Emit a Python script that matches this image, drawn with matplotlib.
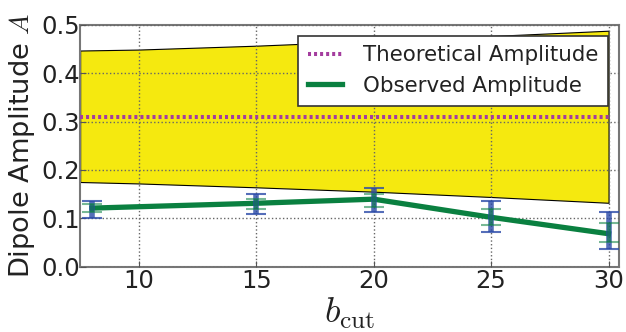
import matplotlib
matplotlib.use("Agg")
import matplotlib.pyplot as plt

plt.rcParams["mathtext.fontset"] = "cm"
plt.rcParams["font.family"] = ["DejaVu Sans"]

# b_cut values of the observations
b_cut = [8, 15, 20, 25, 30]
observed = [0.121, 0.131, 0.1395, 0.102, 0.068]

# wide (blue) and narrow (green) uncertainty intervals
blue_low = [0.1014, 0.109, 0.112, 0.071, 0.037]
blue_high = [0.1366, 0.150, 0.1635, 0.1366, 0.113]
green_low = [0.112, 0.119, 0.1235, 0.087, 0.050]
green_high = [0.129, 0.140, 0.150, 0.120, 0.090]

theoretical = 0.31

# expected range band
band_x = [7.5, 10, 15, 20, 25, 30]
band_low = [0.175, 0.172, 0.164, 0.155, 0.144, 0.132]
band_high = [0.447, 0.449, 0.457, 0.467, 0.477, 0.488]

fig = plt.figure(figsize=(6.26, 3.32), dpi=100)
ax = fig.add_axes([0.128, 0.197, 0.861, 0.728])

ax.fill_between(band_x, band_low, band_high, facecolor="#f5e90f",
                edgecolor="black", linewidth=0.8, zorder=1)

ax.plot([7.5, 30], [theoretical, theoretical], linestyle=(0, (0.75, 0.75)),
        color="#a43d9e", linewidth=2.9, label="Theoretical Amplitude", zorder=3)

ax.plot(b_cut, observed, color="#0a8040", linewidth=3.8,
        label="Observed Amplitude", zorder=4)

b_err = [[o - l for o, l in zip(observed, blue_low)],
         [h - o for o, h in zip(observed, blue_high)]]
g_err = [[o - l for o, l in zip(observed, green_low)],
         [h - o for o, h in zip(observed, green_high)]]
ax.errorbar(b_cut, observed, yerr=b_err, fmt="none", ecolor="#2a4aa8",
            elinewidth=4, capsize=7, capthick=1.5, alpha=0.8, zorder=5)
ax.errorbar(b_cut, observed, yerr=g_err, fmt="none", ecolor="#0a8040",
            elinewidth=3, capsize=7, capthick=1.5, alpha=0.55, zorder=6)

ax.set_xlim(7.5, 30.45)
ax.set_ylim(0.0, 0.5)
ax.set_xticks([10, 15, 20, 25, 30])
ax.set_yticks([0.0, 0.1, 0.2, 0.3, 0.4, 0.5])
ax.set_yticklabels(["0.0", "0.1", "0.2", "0.3", "0.4", "0.5"])
ax.tick_params(direction="in", labelsize=17.5, length=4, color="#555555",
               labelcolor="#222222")
ax.tick_params(axis="y", pad=0)
ax.tick_params(axis="x", pad=2)
ax.grid(True, linestyle=":", color="#666666", linewidth=1, zorder=2)
ax.set_axisbelow(False)
for s in ax.spines.values():
    s.set_color("#777777")
    s.set_linewidth(1.5)

ax.set_ylabel("Dipole Amplitude $A$", fontsize=19.6, labelpad=3,
              color="#222222")
ax.set_xlabel(r"$b_{\rm cut}$", fontsize=26, labelpad=2, color="#222222")

leg = ax.legend(loc="upper right", fontsize=15.4, fancybox=False,
                framealpha=1, edgecolor="#333333", handlelength=1.6,
                handletextpad=1.0, borderaxespad=0.5, borderpad=0.45,
                labelspacing=0.5)
leg.get_frame().set_linewidth(1.2)
for t in leg.get_texts():
    t.set_color("#222222")
leg.set_zorder(10)

fig.savefig("out.png", dpi=100)
